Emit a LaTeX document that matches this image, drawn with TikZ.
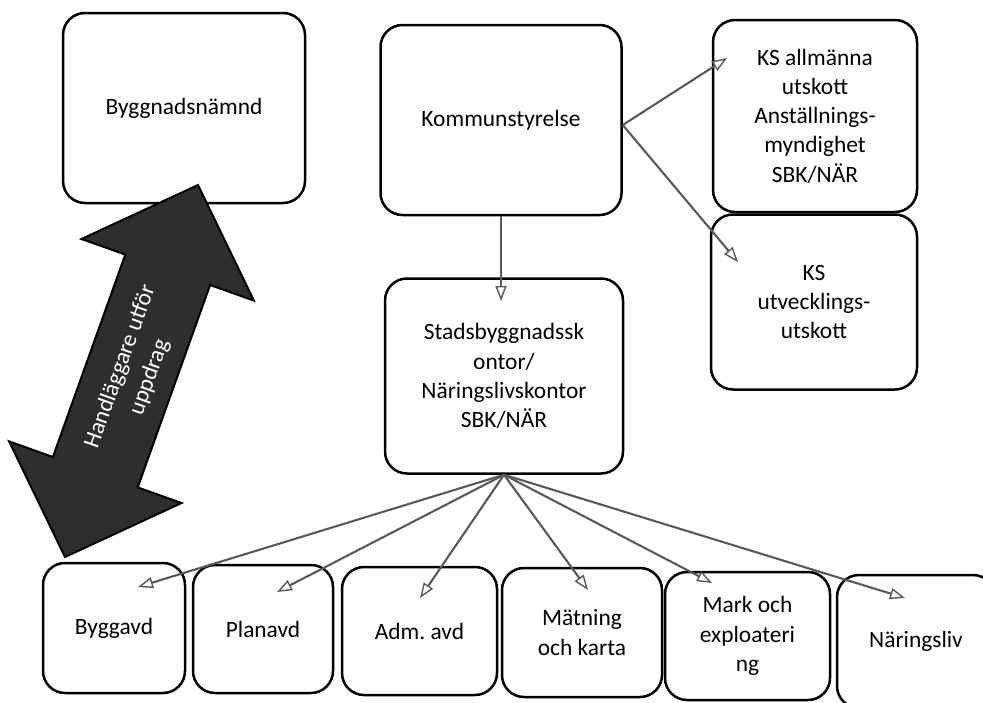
\documentclass[tikz,border=0pt]{standalone}
\usepackage{fontspec}
\setmainfont{Carlito}
\usetikzlibrary{arrows.meta}
\frenchspacing
\begin{document}
\begin{tikzpicture}[x=1pt,y=-1pt,
  box/.style={draw=black, line width=2.5pt, rounded corners=22pt, align=center,
    inner sep=0pt, font=\fontsize{23.4}{29.2}\selectfont\frenchspacing, fill=white},
  conn/.style={draw=black!65, line width=2.1pt,
    -{Triangle[open,length=15pt,width=11pt,line width=1.4pt]}},
  bigarrow/.style={fill=black!82, draw=black, line width=2pt, line join=miter},
]
\useasboundingbox (0,0) rectangle (983,702);
\clip (0,0) rectangle (983,702);
\fill[white] (0,0) rectangle (983,702);

% top row
\node[box, minimum width=242pt, minimum height=190pt] (bn) at (184,108) {Byggnadsnämnd};
\node[box, minimum width=241pt, minimum height=190pt] (ks) at (501,120) {Kommunstyrelse};
\node[box, minimum width=204pt, minimum height=192pt] (ksa) at (815,116)
  {KS allmänna\\utskott\\Anställnings-\\myndighet\\SBK/NÄR};
\node[box, minimum width=206pt, minimum height=175pt] (ksu) at (814,302)
  {KS\\utvecklings-\\utskott};
\node[box, minimum width=238pt, minimum height=195pt] (sbk) at (504,376)
  {Stadsbyggnadssk\\ontor/\\Näringslivskontor\\SBK/NÄR};

% bottom row
\node[box, minimum width=142pt, minimum height=130pt] (bygg) at (114,628) {Byggavd};
\node[box, minimum width=140pt, minimum height=128pt] (plan) at (263,629) {Planavd};
\node[box, minimum width=155pt, minimum height=128pt] (adm) at (419.5,631) {Adm. avd};
\node[box, minimum width=160pt, minimum height=129pt] (mat) at (582,632.5) {Mätning\\och karta};
\node[box, minimum width=165pt, minimum height=128pt] (mark) at (747.5,636) {Mark och\\exploateri\\ng};
\node[box, minimum width=158pt, minimum height=133pt] (nar) at (916,641.5) {Näringsliv};

% big double arrow
\path[bigarrow] (198,185) -- (253.9,300.6) -- (210.1,285) -- (137.7,487.4)
  -- (181.5,503) -- (65,557) -- (9.1,441.4) -- (52.9,457) -- (125.3,254.6)
  -- (81.5,239) -- cycle;
\node[rotate=70.3, text=white, align=center, inner sep=0pt,
  font=\fontsize{23.4}{31}\selectfont] (bat) at (135,372) {Handläggare utför\\uppdrag};

% connector end points
\coordinate (tv) at (501,301);
\coordinate (ta) at (727,58);
\coordinate (tu) at (738,262);
\coordinate (t1) at (138,587);
\coordinate (t2) at (277,592);
\coordinate (t3) at (420,598);
\coordinate (t4) at (588,590);
\coordinate (t5) at (712,583);
\coordinate (t6) at (905,598);

% connectors
\draw[conn] (ks.south) -- (tv);
\draw[conn] ([yshift=-5pt]ks.east) -- (ta);
\draw[conn] ([yshift=-5pt]ks.east) -- (tu);
\foreach \t in {t1,t2,t3,t4,t5,t6}
  \draw[conn] (sbk.south) -- (\t);
\end{tikzpicture}
\end{document}
